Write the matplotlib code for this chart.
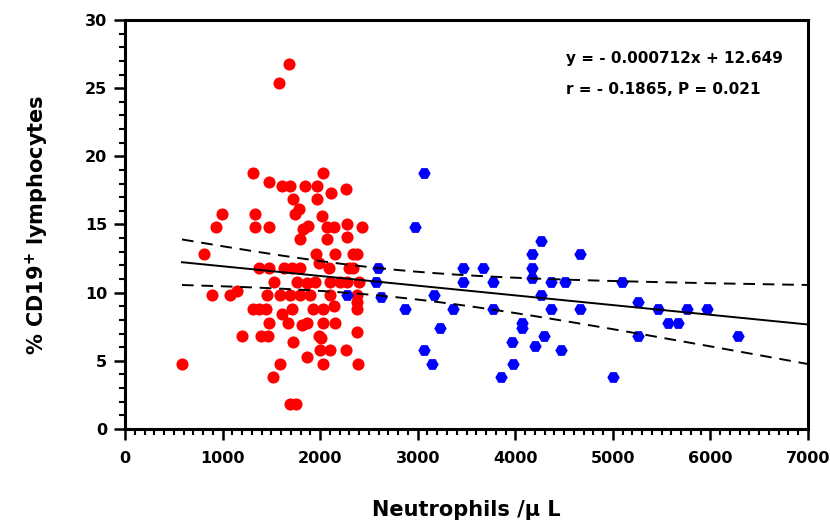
import numpy as np
import matplotlib
matplotlib.use("Agg")
import matplotlib.pyplot as plt
from matplotlib.ticker import MultipleLocator

plt.rcParams['font.family'] = ['DejaVu Sans']
plt.rcParams['font.weight'] = 'bold'
plt.rcParams['mathtext.default'] = 'bf'

# Group 1 (red circles): neutrophils /uL, % CD19+ lymphocytes
red_x = [1681, 1579, 1312, 2030, 1476, 1609, 1691, 1845, 1968, 2112, 2265, 1722, 1968,
         994, 1333, 1743, 1784, 2019,
         933, 1333, 1476, 1825, 1876, 2071, 2142, 2276, 2429,
         1794, 2071, 2276,
         810, 1958, 2153, 2337, 2378,
         1989,
         1374, 1476, 1630, 1712, 1794, 2091, 2296, 2337,
         1527, 1763, 1866, 1948, 2101, 2204, 2276, 2398,
         892, 1076, 1148, 1456, 1589, 1691, 1794, 1896, 2101, 2378,
         2378,
         1312, 1374, 1445, 1712, 1927, 2030, 2142, 2378,
         1609, 1671, 1476, 1866, 1814, 2030, 2153,
         1199, 1394, 1466, 1989, 2009, 2378,
         1722,
         1999, 2101, 2265,
         1866,
         584, 1589, 2030, 2388,
         1517,
         1691, 1753]
red_y = [26.8, 25.4, 18.8, 18.8, 18.1, 17.8, 17.8, 17.8, 17.8, 17.3, 17.6, 16.9, 16.9,
         15.8, 15.8, 15.8, 16.1, 15.6,
         14.8, 14.8, 14.8, 14.7, 14.9, 14.8, 14.8, 15.0, 14.8,
         13.9, 13.9, 14.1,
         12.8, 12.8, 12.8, 12.8, 12.8,
         12.2,
         11.8, 11.8, 11.8, 11.8, 11.8, 11.8, 11.8, 11.8,
         10.8, 10.8, 10.7, 10.8, 10.8, 10.8, 10.8, 10.8,
         9.8, 9.8, 10.1, 9.8, 9.8, 9.8, 9.8, 9.8, 9.8, 9.8,
         9.3,
         8.8, 8.8, 8.8, 8.8, 8.8, 8.8, 9.0, 8.8,
         8.4, 7.8, 7.8, 7.8, 7.6, 7.8, 7.8,
         6.8, 6.8, 6.8, 6.8, 6.7, 7.1,
         6.4,
         5.8, 5.8, 5.8,
         5.3,
         4.8, 4.8, 4.8, 4.8,
         3.8,
         1.8, 1.8]

# Group 2 (blue hexagons)
blue_x = [3068, 2969, 2596, 2570, 2272, 2621, 2870, 3170, 3229, 3068, 3150, 3365,
          3468, 3468, 3666, 3769, 3769, 3854, 3980, 3970, 4066, 4066, 4169, 4169,
          4169, 4264, 4199, 4295, 4264, 4367, 4367, 4510, 4466, 4664, 4664, 5005,
          5097, 5261, 5261, 5460, 5562, 5665, 5760, 5962, 6283]
blue_y = [18.8, 14.8, 11.8, 10.8, 9.8, 9.7, 8.8, 9.8, 7.4, 5.8, 4.8, 8.8,
          11.8, 10.8, 11.8, 10.8, 8.8, 3.8, 4.8, 6.4, 7.8, 7.4, 12.8, 11.8,
          11.1, 13.8, 6.1, 6.8, 9.8, 10.8, 8.8, 10.8, 5.8, 12.8, 8.8, 3.8,
          10.8, 9.3, 6.8, 8.8, 7.8, 7.8, 8.8, 8.8, 6.8]

# Regression (as printed on the chart) and confidence band
slope = -0.000712
intercept = 12.649
band_center_x = 2700     # x where the band is narrowest
band_min_half = 1.0      # half-width at its narrowest
band_width_scale = 1580  # x-distance controlling band widening
line_x_end = 7000

eq_text = "y = - 0.000712x + 12.649"
r_text = "r = - 0.1865, P = 0.021"
x_label = "Neutrophils /µ L"
y_label = "% CD19$^{+}$ lymphocytes"
x_ticks = [0, 1000, 2000, 3000, 4000, 5000, 6000, 7000]
y_ticks = [0, 5, 10, 15, 20, 25, 30]

fig = plt.figure(figsize=(8.30, 5.23), dpi=100)
ax = fig.add_axes([0.1506, 0.1797, 0.8229, 0.7821])

ax.scatter(red_x, red_y, s=76, c='#ff0000', marker='o', linewidths=0, zorder=3)
ax.scatter(blue_x, blue_y, s=80, c='#0000ff', marker='H', linewidths=0, zorder=3)

all_x = np.array(red_x + blue_x, dtype=float)
xs = np.linspace(all_x.min(), line_x_end, 300)
ys = slope * xs + intercept
half = band_min_half * np.sqrt(1 + ((xs - band_center_x) / band_width_scale) ** 2)
ax.plot(xs, ys, color='black', lw=1.4, zorder=4)
ax.plot(xs, ys + half, color='black', lw=1.4, ls=(0, (6, 4)), zorder=4)
ax.plot(xs, ys - half, color='black', lw=1.4, ls=(0, (6, 4)), zorder=4)

ax.set_xlim(0, 7000)
ax.set_ylim(0, 30)
ax.set_xticks(x_ticks)
ax.set_yticks(y_ticks)
ax.xaxis.set_minor_locator(MultipleLocator(100))
ax.yaxis.set_minor_locator(MultipleLocator(1))
ax.tick_params(axis='both', which='major', direction='out', length=8, width=1.8,
               labelsize=11.5, pad=5)
ax.tick_params(axis='x', which='major', pad=8)
ax.tick_params(axis='both', which='minor', direction='out', length=4, width=1.5)
for lab in ax.get_xticklabels() + ax.get_yticklabels():
    lab.set_fontweight('bold')
for sp in ax.spines.values():
    sp.set_linewidth(2.2)

ax.set_xlabel(x_label, fontsize=15, fontweight='bold', labelpad=24)
ax.set_ylabel(y_label, fontsize=15, fontweight='bold', labelpad=24)

ax.text(0.645, 0.906, eq_text, transform=ax.transAxes, fontsize=11,
        fontweight='bold', va='center', ha='left')
ax.text(0.645, 0.829, r_text, transform=ax.transAxes, fontsize=11,
        fontweight='bold', va='center', ha='left')

fig.savefig("out.png", dpi=100)
